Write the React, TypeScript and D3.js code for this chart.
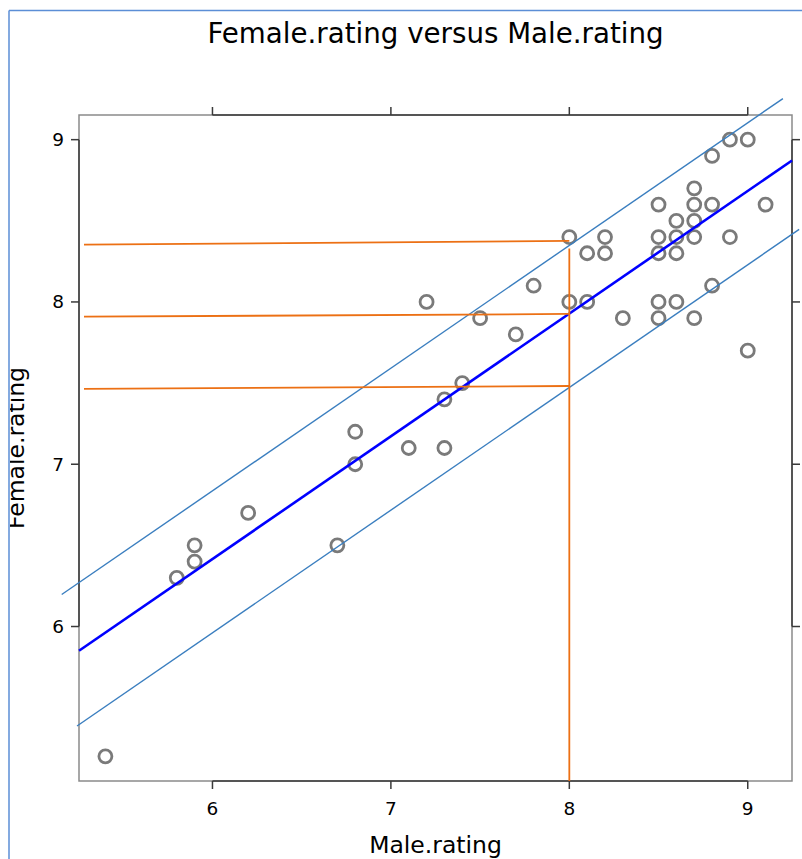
import React from "react";
import * as d3 from "d3";

// ratings (Male.rating, Female.rating)
const maleRating = [
  5.4, 5.8, 5.9, 5.9, 6.2, 6.7, 6.8, 6.8, 7.1, 7.2, 7.3, 7.3, 7.4, 7.5, 7.7,
  7.8, 8.0, 8.0, 8.1, 8.1, 8.2, 8.2, 8.3, 8.5, 8.5, 8.5, 8.5, 8.5, 8.6, 8.6,
  8.6, 8.6, 8.7, 8.7, 8.7, 8.7, 8.7, 8.8, 8.8, 8.8, 8.9, 8.9, 9.0, 9.0, 9.1,
];
const femaleRating = [
  5.2, 6.3, 6.5, 6.4, 6.7, 6.5, 7.2, 7.0, 7.1, 8.0, 7.1, 7.4, 7.5, 7.9, 7.8,
  8.1, 8.4, 8.0, 8.3, 8.0, 8.4, 8.3, 7.9, 8.6, 8.4, 8.3, 8.0, 7.9, 8.5, 8.4,
  8.3, 8.0, 8.7, 8.6, 8.5, 8.4, 7.9, 8.9, 8.6, 8.1, 9.0, 8.4, 9.0, 7.7, 8.6,
];

const xTicks = [6, 7, 8, 9];
const yTicks = [6, 7, 8, 9];

// hand-drawn band around the fit
const upperOffset = 0.42;
const lowerOffset = -0.455;
const upperRange = [5.155, 9.197];
const lowerRange = [5.241, 9.288];

// orange guide lines at Male.rating = 8
const guideX = 8;
const guideStartX = 5.28;
const guideLeftY = [8.353, 7.909, 7.464];
const guideRightY = [8.376, 7.926, 7.482];
const guideTopY = 8.33;

const width = 802;
const height = 859;
const margin = { top: 115, right: 10, bottom: 78, left: 79 };

export default function App() {
  const x0 = margin.left;
  const x1 = width - margin.right;
  const y0 = margin.top;
  const y1 = height - margin.bottom;

  const pad = (ext: number[]) => {
    const r = ext[1] - ext[0];
    return [ext[0] - 0.04 * r, ext[1] + 0.04 * r];
  };
  const xDom = pad(d3.extent(maleRating) as number[]);
  const yDom = pad(d3.extent(femaleRating) as number[]);

  const xScale = d3.scaleLinear().domain(xDom).range([x0, x1]);
  const yScale = d3.scaleLinear().domain(yDom).range([y1, y0]);

  // least squares fit
  const mx = d3.mean(maleRating)!;
  const my = d3.mean(femaleRating)!;
  let sxy = 0;
  let sxx = 0;
  maleRating.forEach((v, i) => {
    sxy += (v - mx) * (femaleRating[i] - my);
    sxx += (v - mx) * (v - mx);
  });
  const slope = sxy / sxx;
  const intercept = my - slope * mx;
  const fit = (v: number) => intercept + slope * v;

  const line = d3
    .line<[number, number]>()
    .x((d) => xScale(d[0]))
    .y((d) => yScale(d[1]));

  const frame = "#5b8ed6";
  const boxCol = "#8a8a8a";
  const axisCol = "#3a3a3a";
  const font = "'DejaVu Sans', Verdana, sans-serif";
  const tickLen = 8;

  return (
    <svg
      width={width}
      height={height}
      style={{ position: "absolute", left: 0, top: 0, background: "#fff" }}
    >
      <defs>
        <clipPath id="labelClip">
          <rect x={10} y={0} width={width} height={height} />
        </clipPath>
      </defs>

      {/* title */}
      <text
        x={(x0 + x1) / 2}
        y={43}
        textAnchor="middle"
        fontFamily={font}
        fontSize={27.7}
        fill="#000"
      >
        Female.rating versus Male.rating
      </text>

      {/* box */}
      <rect x={x0} y={y0} width={x1 - x0} height={y1 - y0} fill="none" stroke={boxCol} strokeWidth={1.5} />
      <line x1={xScale(6)} x2={xScale(9)} y1={y1} y2={y1} stroke={axisCol} strokeWidth={1.5} />
      <line x1={xScale(6)} x2={xScale(9)} y1={y0} y2={y0} stroke={axisCol} strokeWidth={1.5} />
      <line x1={x0} x2={x0} y1={yScale(9)} y2={yScale(6)} stroke={axisCol} strokeWidth={1.5} />
      <line x1={x1} x2={x1} y1={yScale(9)} y2={yScale(6)} stroke={axisCol} strokeWidth={1.5} />

      {/* x ticks */}
      {xTicks.map((t) => (
        <g key={"x" + t}>
          <line x1={xScale(t)} x2={xScale(t)} y1={y1} y2={y1 + tickLen} stroke={axisCol} strokeWidth={1.5} />
          <line x1={xScale(t)} x2={xScale(t)} y1={y0} y2={y0 - tickLen} stroke={axisCol} strokeWidth={1.5} />
          <text x={xScale(t)} y={815} textAnchor="middle" fontFamily={font} fontSize={18.5}>
            {t}
          </text>
        </g>
      ))}

      {/* y ticks */}
      {yTicks.map((t) => (
        <g key={"y" + t}>
          <line x1={x0} x2={x0 - tickLen} y1={yScale(t)} y2={yScale(t)} stroke={axisCol} strokeWidth={1.5} />
          <line x1={x1} x2={x1 + tickLen} y1={yScale(t)} y2={yScale(t)} stroke={axisCol} strokeWidth={1.5} />
          <text x={64} y={yScale(t) + 6.5} textAnchor="end" fontFamily={font} fontSize={18.5}>
            {t}
          </text>
        </g>
      ))}

      {/* axis labels */}
      <text x={(x0 + x1) / 2} y={853} textAnchor="middle" fontFamily={font} fontSize={23.5}>
        Male.rating
      </text>
      <g clipPath="url(#labelClip)">
        <text
          transform={`translate(23.5, ${(y0 + y1) / 2}) rotate(-90)`}
          textAnchor="middle"
          fontFamily={font}
          fontSize={23.5}
        >
          Female.rating
        </text>
      </g>

      {/* points */}
      {maleRating.map((v, i) => (
        <circle
          key={i}
          cx={xScale(v)}
          cy={yScale(femaleRating[i])}
          r={6.5}
          fill="none"
          stroke="#7a7a7a"
          strokeWidth={2.8}
        />
      ))}

      {/* fitted line */}
      <path
        d={line([
          [xDom[0], fit(xDom[0])],
          [xDom[1], fit(xDom[1])],
        ])!}
        stroke="#0000ff"
        strokeWidth={2.6}
        fill="none"
      />

      {/* band lines */}
      <path
        d={line(upperRange.map((v) => [v, fit(v) + upperOffset] as [number, number]))!}
        stroke="#3a7ebf"
        strokeWidth={1.4}
        fill="none"
      />
      <path
        d={line(lowerRange.map((v) => [v, fit(v) + lowerOffset] as [number, number]))!}
        stroke="#3a7ebf"
        strokeWidth={1.4}
        fill="none"
      />

      {/* orange guides */}
      {guideLeftY.map((v, i) => (
        <path
          key={"g" + i}
          d={line([
            [guideStartX, v],
            [guideX, guideRightY[i]],
          ])!}
          stroke="#ec7014"
          strokeWidth={1.8}
          fill="none"
        />
      ))}
      <path
        d={line([
          [guideX, guideTopY],
          [guideX, yDom[0]],
        ])!}
        stroke="#ec7014"
        strokeWidth={1.8}
        fill="none"
      />

      {/* outer frame */}
      <line x1={9} x2={9} y1={10.5} y2={height} stroke={frame} strokeWidth={1.5} />
      <line x1={9} x2={width} y1={10.5} y2={10.5} stroke={frame} strokeWidth={1.5} />
    </svg>
  );
}
